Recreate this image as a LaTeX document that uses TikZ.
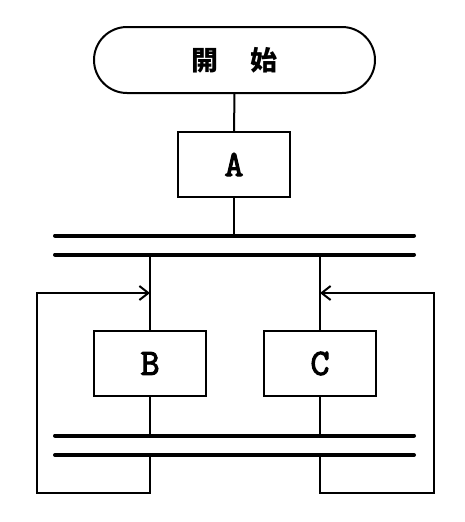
\documentclass[tikz,border=0pt]{standalone}
\usepackage{fontspec}
\newfontfamily\cjk{Noto Sans CJK JP}
\newfontfamily\letfont[FakeBold=3]{Latin Modern Mono}
\usetikzlibrary{arrows.meta}
\begin{document}
\begin{tikzpicture}[x=1pt,y=-1pt, line width=2pt,
 box/.style={draw, minimum width=112pt, minimum height=65pt, inner sep=0pt, font=\letfont\fontsize{37}{37}\selectfont},
 term/.style={draw, rounded corners=33pt, minimum width=281pt, minimum height=66pt, inner sep=0pt, font=\cjk\bfseries\fontsize{27}{27}\selectfont},
 bar/.style={line width=4pt, line cap=round},
 arr/.style={-{Straight Barb[length=9pt,width=14pt,line width=2pt]}}]
\useasboundingbox (0,0) rectangle (464,522);
\node[term] (start) at (234.5,60) {開\hspace{32pt}始};
\node[box] (A) at (234,164.5) {A};
\node[box] (B) at (150,363.5) {B};
\node[box] (C) at (320,363.5) {C};
\coordinate (bar1) at (55,235.5);
\coordinate (bar2) at (55,254.5);
\coordinate (bar3) at (55,435.5);
\coordinate (bar4) at (55,455);
\coordinate (LB) at (37,493);
\coordinate (LT) at (37,293);
\coordinate (RB) at (434,493);
\coordinate (RT) at (434,293);
\draw (start) -- (A);
\draw (A.south) -- (A |- bar1);
\draw (B |- bar2) -- (B.north);
\draw (C |- bar2) -- (C.north);
\draw (B.south) -- (B |- bar3);
\draw (C.south) -- (C |- bar3);
\draw[arr] (B |- bar4) |- (LB) -- (LT) -- (B |- LT);
\draw[arr] (C |- bar4) |- (RB) -- (RT) -- (C |- RT);
\draw[bar] (bar1) -- ++(359,0);
\draw[bar] (bar2) -- ++(359,0);
\draw[bar] (bar3) -- ++(359,0);
\draw[bar] (bar4) -- ++(359,0);
\end{tikzpicture}
\end{document}
